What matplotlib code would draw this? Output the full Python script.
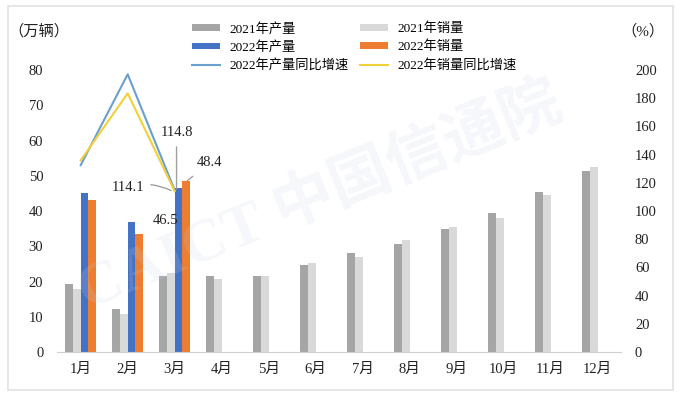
import matplotlib.pyplot as plt
from matplotlib.patches import Rectangle
import numpy as np

plt.rcParams['font.family'] = ['Liberation Serif', 'Noto Sans CJK SC', 'DejaVu Sans']

months = ['1月', '2月', '3月', '4月', '5月', '6月', '7月', '8月', '9月', '10月', '11月', '12月']
prod_2021 = [19.3, 12.1, 21.6, 21.5, 21.6, 24.7, 28.2, 30.7, 35.0, 39.4, 45.3, 51.3]
sales_2021 = [17.9, 10.9, 22.4, 20.6, 21.6, 25.2, 26.9, 31.9, 35.5, 38.0, 44.6, 52.5]
prod_2022 = [45.2, 36.8, 46.5]
sales_2022 = [43.1, 33.4, 48.4]
prod_growth = [132.6, 197.0, 114.8]
sales_growth = [136.0, 183.5, 114.1]

fig = plt.figure(figsize=(6.81, 3.96), dpi=100)
ax = fig.add_axes([0.084, 0.111, 0.828, 0.712])
ax2 = ax.twinx()

x = np.arange(len(months))
x22 = np.arange(len(prod_2022))
w = 0.165
ax.bar(x - 1.5 * w, prod_2021, w, color='#a5a5a5', label='2021年产量', zorder=2)
ax.bar(x - 0.5 * w, sales_2021, w, color='#d9d9d9', label='2021年销量', zorder=2)
ax.bar(x22 + 0.5 * w, prod_2022, w, color='#4472c4', label='2022年产量', zorder=2)
ax.bar(x22 + 1.5 * w, sales_2022, w, color='#ed7d31', label='2022年销量', zorder=2)

l1, = ax2.plot(x22, prod_growth, color='#6a9fd0', lw=1.5, label='2022年产量同比增速')
l2, = ax2.plot(x22, sales_growth, color='#f2d03a', lw=1.5, label='2022年销量同比增速')

ax.set_xlim(-0.5, 11.5)
ax.set_ylim(0, 80)
ax2.set_ylim(0, 200)
ax.set_yticks(range(0, 81, 10))
ax2.set_yticks(range(0, 201, 20))
ax.set_xticks(x)
ax.set_xticklabels(months)

for a in (ax, ax2):
    for s in a.spines.values():
        s.set_visible(False)
    a.tick_params(length=0, labelsize=10.5, colors='#222222')
ax.spines['bottom'].set_visible(True)
ax.spines['bottom'].set_color('#d0d0d0')
ax.tick_params(axis='x', pad=8)
ax.tick_params(axis='y', pad=10)
ax2.tick_params(axis='y', pad=10)

fig.text(0.012, 0.922, '（万辆）', fontsize=11, color='#222222', va='center')
fig.text(0.912, 0.922, '（%）', fontsize=11, color='#222222', va='center')

# annotations
ax2.annotate('114.8', xy=(x22[2] + 0.04, prod_growth[2]), xytext=(x22[2] + 0.04, 156),
             ha='center', va='center', fontsize=10.5, color='#222222',
             arrowprops=dict(arrowstyle='-', color='#a0a0a0', lw=1, shrinkA=4, shrinkB=1))
ax2.annotate('114.1', xy=(x22[2] - 0.05, sales_growth[2]), xytext=(x22[2] - 1.0, 117),
             ha='center', va='center', fontsize=10.5, color='#222222',
             arrowprops=dict(arrowstyle='-', color='#a0a0a0', lw=1, shrinkA=3, shrinkB=1,
                             connectionstyle='arc3,rad=-0.2'))
ax.annotate('48.4', xy=(x22[2] + 1.5 * w, sales_2022[2]), xytext=(x22[2] + 0.75, 53.7),
            ha='center', va='center', fontsize=10.5, color='#222222',
            arrowprops=dict(arrowstyle='-', color='#a0a0a0', lw=1, shrinkA=5, shrinkB=1))
ax.text(x22[2] - 0.2, 37.2, '46.5', ha='center', va='center', fontsize=10.5, color='#222222')

# watermark
fig.text(0.47, 0.5, 'CAICT 中国信通院', fontsize=44, color='#c8d2e6', alpha=0.18,
         rotation=22, ha='center', va='center', fontweight='bold', zorder=0)

handles = ax.get_legend_handles_labels()[0] + [l1, l2]
labels = ['2021年产量', '2021年销量', '2022年产量', '2022年销量', '2022年产量同比增速', '2022年销量同比增速']
order = [0, 2, 4, 1, 3, 5]
fig.legend([handles[i] for i in order], [labels[i] for i in order], ncol=2,
           loc='upper left', bbox_to_anchor=(0.272, 0.96), frameon=False,
           fontsize=9.5, handlelength=2.1, handleheight=0.4, handletextpad=0.75,
           columnspacing=0.85, labelspacing=0.42, borderpad=0)

fig.patches.append(Rectangle((0.012, 0.015), 0.976, 0.97, transform=fig.transFigure,
                             fill=False, edgecolor='#e2e2e2', lw=1.2))

fig.savefig('out.png', dpi=100)
